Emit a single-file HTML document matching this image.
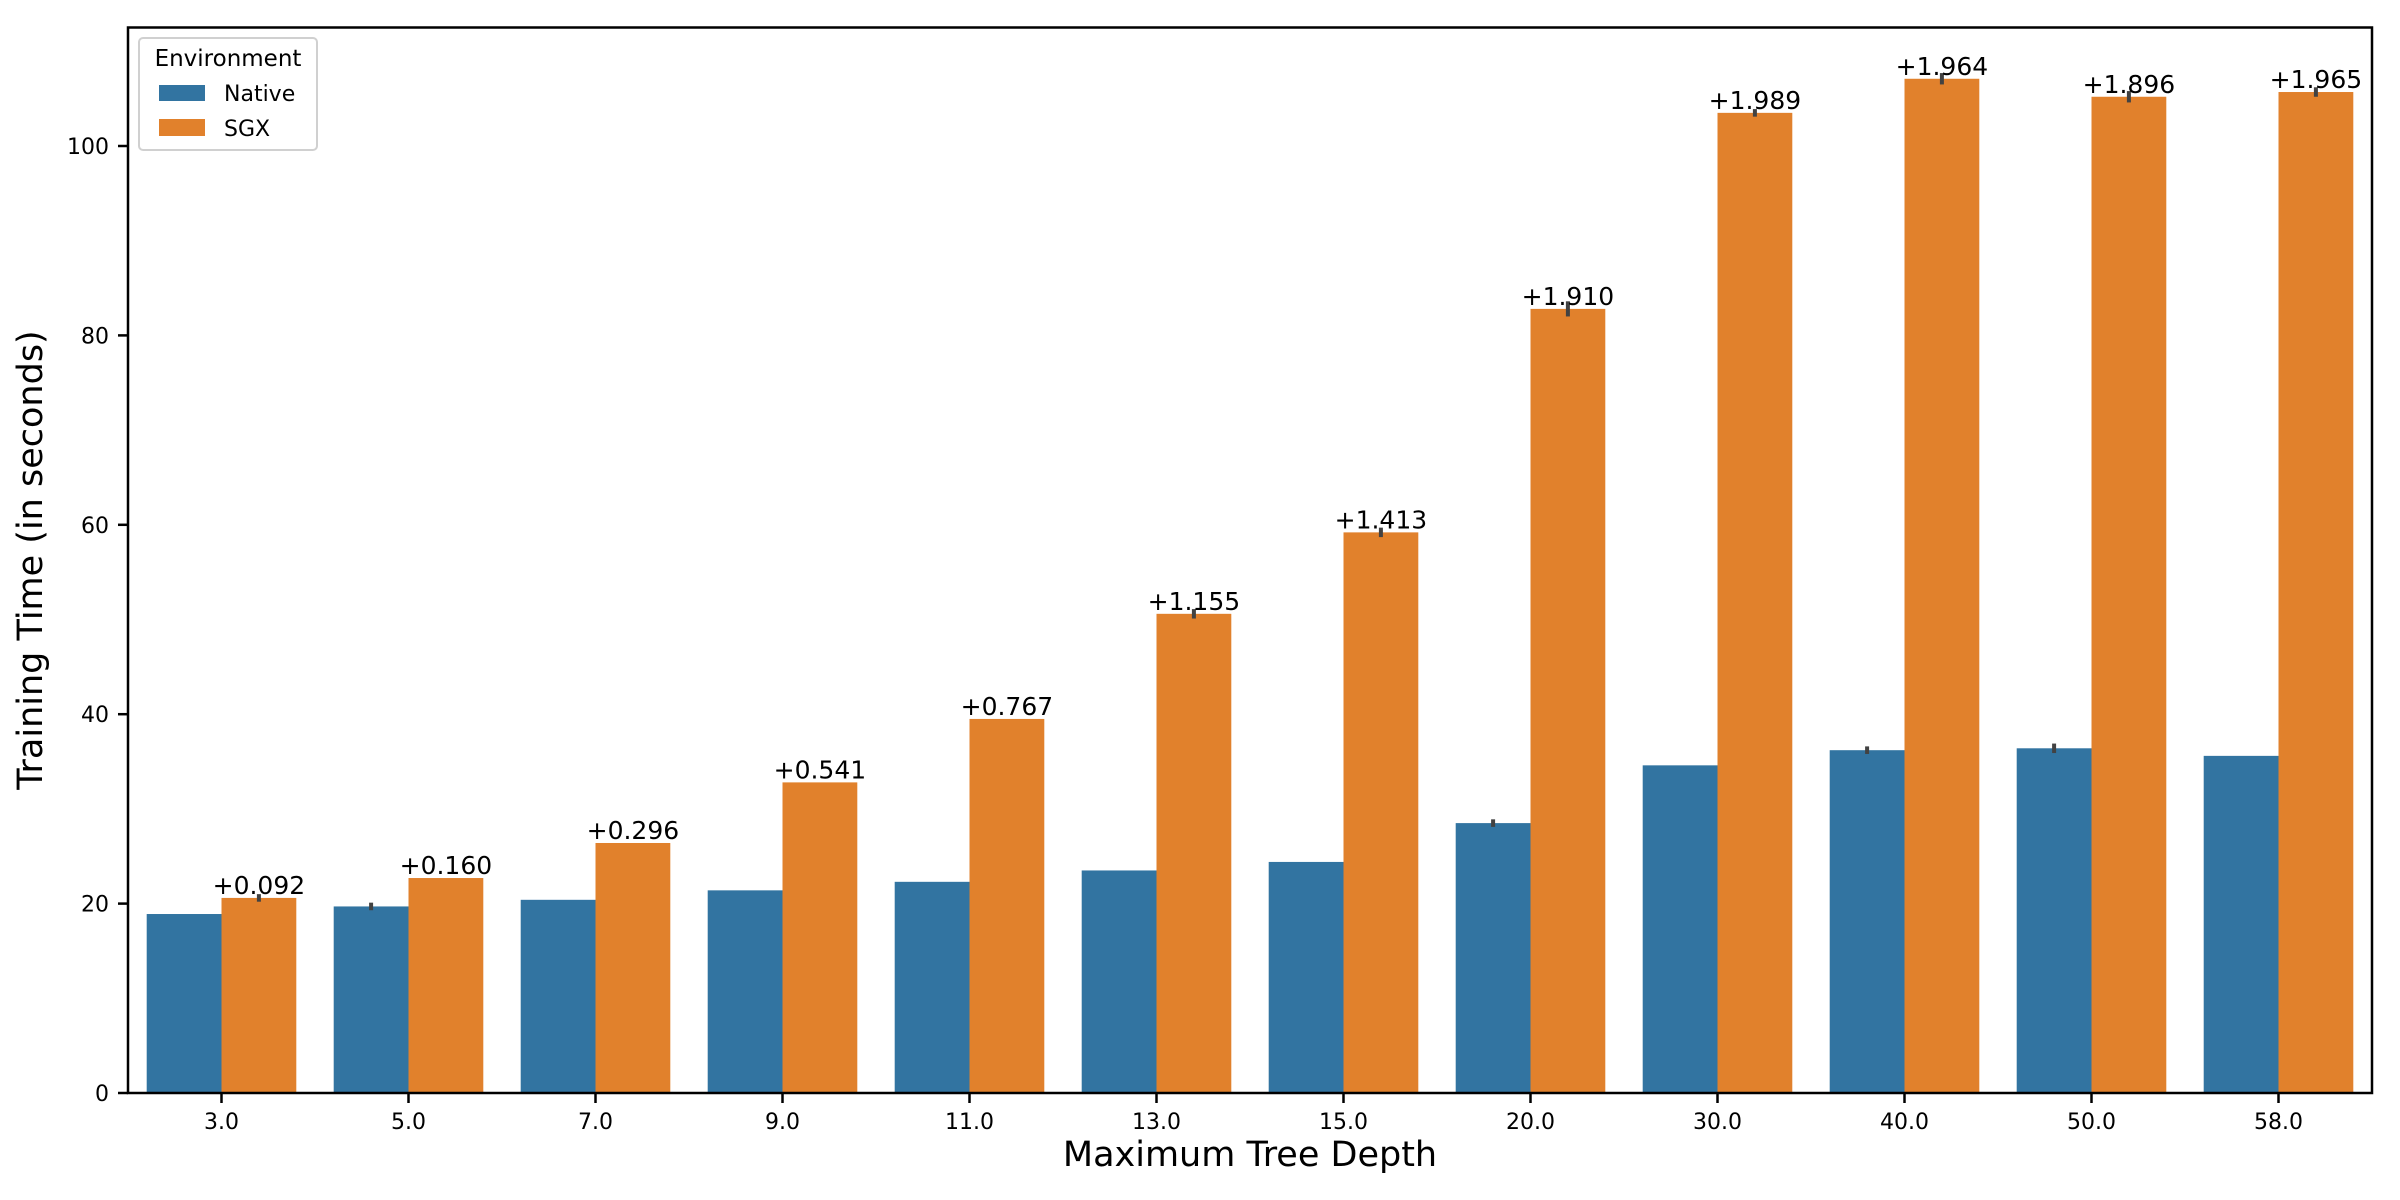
<!DOCTYPE html>
<html><head><meta charset="utf-8"><style>
html,body{margin:0;padding:0;background:#fff;}
svg{display:block;font-family:"DejaVu Sans","Liberation Sans",sans-serif;}
</style></head><body>
<svg id="chart" width="2400" height="1200" viewBox="0 0 2400 1200">
<g id="bars"></g>
<g id="yticks"></g>
<g id="xticks"></g>
<rect x="128" y="27.5" width="2244" height="1065.5" fill="none" stroke="#000" stroke-width="2.5"/>
<text x="42" y="560" font-size="35" text-anchor="middle" transform="rotate(-90 42 560)">Training Time (in seconds)</text>
<text x="1250" y="1166" font-size="35" text-anchor="middle">Maximum Tree Depth</text>
<g>
<rect x="139" y="38" width="178" height="112" rx="4" fill="#fff" stroke="#d0d0d0" stroke-width="2"/>
<text x="228" y="66" font-size="23" text-anchor="middle">Environment</text>
<rect x="159" y="85" width="46" height="16" fill="#3274a1"/>
<text x="224" y="101" font-size="22">Native</text>
<rect x="159" y="119" width="46" height="17" fill="#e1812c"/>
<text x="224" y="136" font-size="22">SGX</text>
</g>
</svg>
<script>
const categories = ["3.0","5.0","7.0","9.0","11.0","13.0","15.0","20.0","30.0","40.0","50.0","58.0"];
const nativeValues = [18.9,19.7,20.4,21.4,22.3,23.5,24.4,28.5,34.6,36.2,36.4,35.6];
const sgxValues = [20.6,22.7,26.4,32.8,39.5,50.6,59.2,82.8,103.5,107.1,105.2,105.7];
const annotations = ["+0.092","+0.160","+0.296","+0.541","+0.767","+1.155","+1.413","+1.910","+1.989","+1.964","+1.896","+1.965"];
const nativeErr = [0,0.4,0,0,0,0,0,0.4,0,0.4,0.5,0];
const sgxErr = [0.4,0,0,0,0,0.5,0.5,0.8,0.4,0.6,0.6,0.5];
const yTicks = [0,20,40,60,80,100];

const NS="http://www.w3.org/2000/svg";
const L=128,R=2372,T=27.5,B=1093;
const band=(R-L)/categories.length;
const y=v=>B-v*(B-146)/100;
const xc=i=>L+band*(i+0.5);
const bw=band*0.4;
function mk(tag,attrs,parent){const e=document.createElementNS(NS,tag);for(const k in attrs)e.setAttribute(k,attrs[k]);parent.appendChild(e);return e;}
const gB=document.getElementById('bars'),gY=document.getElementById('yticks'),gX=document.getElementById('xticks');
categories.forEach((c,i)=>{
  const cx=xc(i);
  let r=mk('rect',{x:cx-bw,y:y(nativeValues[i]),width:bw,height:B-y(nativeValues[i]),fill:'#3274a1'},gB);
  
  
  r=mk('rect',{x:cx,y:y(sgxValues[i]),width:bw,height:B-y(sgxValues[i]),fill:'#e1812c'},gB);
  
  
  if(nativeErr[i]>0){
    const l=mk('line',{x1:cx-bw/2,x2:cx-bw/2,y1:y(nativeValues[i]+nativeErr[i]),y2:y(nativeValues[i]-nativeErr[i]),stroke:'#424242','stroke-width':4},gB);
    
    
  }
  if(sgxErr[i]>0){
    const l=mk('line',{x1:cx+bw/2,x2:cx+bw/2,y1:y(sgxValues[i]+sgxErr[i]),y2:y(sgxValues[i]-sgxErr[i]),stroke:'#424242','stroke-width':4},gB);
    
    
  }
  const t=mk('text',{x:cx+bw/2,y:y(sgxValues[i])-4,'font-size':25,'text-anchor':'middle'},gB);
  t.textContent=annotations[i];
  
  
  const tk=mk('line',{x1:cx,x2:cx,y1:B,y2:B+10,stroke:'#000','stroke-width':2.5},gX);
  
  
  const tl=mk('text',{x:cx,y:B+36,'font-size':22,'text-anchor':'middle'},gX);
  tl.textContent=c;
  
  
});
yTicks.forEach(v=>{
  const tk=mk('line',{x1:L-10,x2:L,y1:y(v),y2:y(v),stroke:'#000','stroke-width':2.5},gY);
  
  
  const tl=mk('text',{x:L-19,y:y(v)+8,'font-size':22,'text-anchor':'end'},gY);
  tl.textContent=v;
  
  
});
</script>
</body></html>
